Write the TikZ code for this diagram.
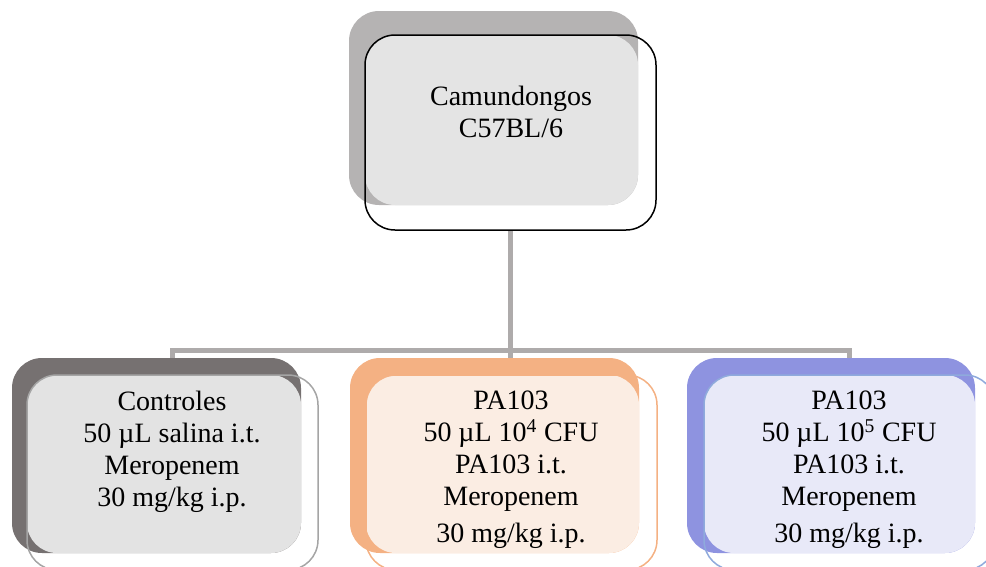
\documentclass[tikz,border=0pt]{standalone}
\usepackage{fontspec}
\setmainfont{Liberation Serif}
\usetikzlibrary{backgrounds}
\definecolor{conn}{HTML}{AEABAB}
\definecolor{tsh}{HTML}{B5B3B3}
\definecolor{tfl}{HTML}{E4E4E4}
\definecolor{lsh}{HTML}{767171}
\definecolor{lfl}{HTML}{E3E3E3}
\definecolor{lol}{HTML}{A5A5A5}
\definecolor{msh}{HTML}{F4B183}
\definecolor{mfl}{HTML}{FBEDE3}
\definecolor{mol}{HTML}{F4B183}
\definecolor{rsh}{HTML}{8E93E0}
\definecolor{rfl}{HTML}{E8E9F8}
\definecolor{rol}{HTML}{8FAADC}
\tikzset{
  shape box/.style={rectangle, rounded corners=30pt, inner sep=0pt, outer sep=0pt, anchor=north west},
  outline box/.style={shape box, line width=1.5pt},
  txt/.style={align=center, font=\fontsize{28}{32}\selectfont, inner sep=0pt},
  connline/.style={draw=conn, line width=5pt}
}
\begin{document}
\begin{tikzpicture}[x=1pt,y=-1pt]
\useasboundingbox (0,0) rectangle (986,566);
\clip (0,0) rectangle (986,566);
% top box
\node[shape box, fill=tsh, minimum width=289pt, minimum height=194pt] (tshadow) at (349,11) {};
\node[shape box, fill=tfl, minimum width=273pt, minimum height=170pt] (tfill) at (365,35) {};
\node[outline box, draw=black, minimum width=291pt, minimum height=195pt] (tout) at (365,35) {};
% left box
\node[shape box, fill=lsh, minimum width=289pt, minimum height=195pt] (lshadow) at (12,358) {};
\node[shape box, fill=lfl, minimum width=274pt, minimum height=178pt] (lfill) at (27,375) {};
\node[outline box, draw=lol, minimum width=291pt, minimum height=195pt] (lout) at (27,375) {};
% middle box
\node[shape box, fill=msh, minimum width=289pt, minimum height=195pt] (mshadow) at (350,358) {};
\node[shape box, fill=mfl, minimum width=273pt, minimum height=178pt] (mfill) at (366,375) {};
\node[outline box, draw=mol, minimum width=291pt, minimum height=195pt] (mout) at (366,375) {};
% right box
\node[shape box, fill=rsh, minimum width=288pt, minimum height=195pt] (rshadow) at (687,358) {};
\node[shape box, fill=rfl, minimum width=271pt, minimum height=178pt] (rfill) at (704,375) {};
\node[outline box, draw=rol, minimum width=291pt, minimum height=195pt] (rout) at (704,375) {};
% connectors, behind the boxes
\begin{pgfonlayer}{background}
\draw[connline] (tout.south) -- (tout.south |- mshadow.north);
\draw[connline] (lout.north |- lshadow.north) -- ++(0,-8) -| (rout.north |- rshadow.north);
\end{pgfonlayer}
% texts
\node[txt] (ttext) at (511,112) {Camundongos\\C57BL/6};
\node[txt] (ltext) at (172,451.5) {Controles\\50 µL salina i.t.\\Meropenem\\30 mg/kg i.p.};
\node[txt] (mtext) at (511,470) {PA103\\50 µL 10\textsuperscript{4} CFU\\PA103 i.t.\\Meropenem\\[5pt]30 mg/kg i.p.};
\node[txt] (rtext) at (849,470) {PA103\\50 µL 10\textsuperscript{5} CFU\\PA103 i.t.\\Meropenem\\[5pt]30 mg/kg i.p.};
\end{tikzpicture}
\end{document}
